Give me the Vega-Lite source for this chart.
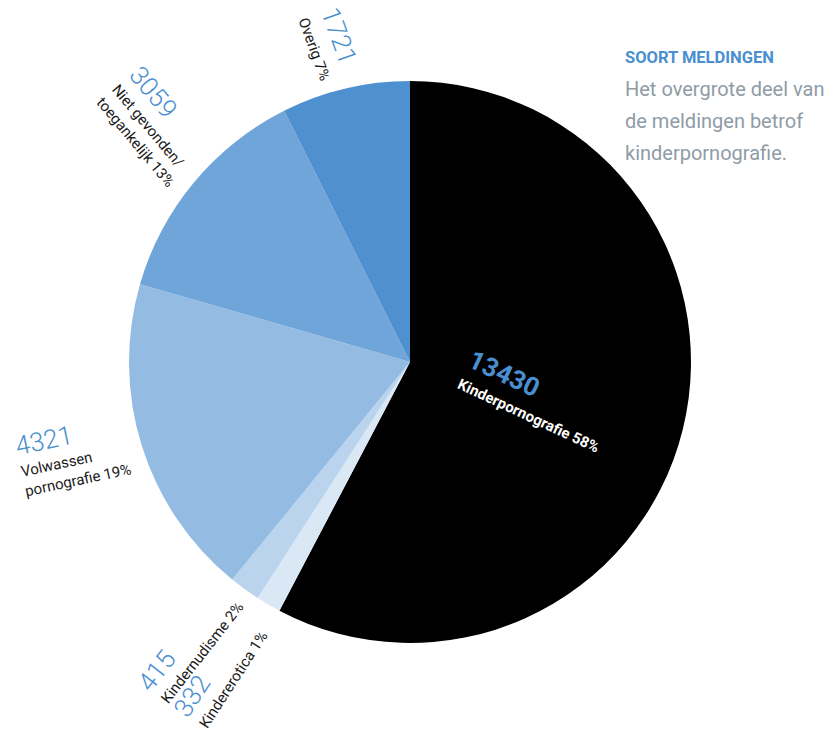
{
  "$schema": "https://vega.github.io/schema/vega-lite/v6.json",
  "width": 820,
  "height": 724,
  "autosize": "none",
  "padding": {"left": 0, "top": 0, "right": 12, "bottom": 6},
  "background": "white",
  "config": {"view": {"stroke": null}, "font": "Roboto"},
  "title": {
    "text": "SOORT MELDINGEN",
    "subtitle": ["Het overgrote deel van", "de meldingen betrof", "kinderpornografie."],
    "anchor": "start",
    "frame": "group",
    "orient": "top",
    "offset": 0,
    "dx": 625,
    "dy": 244,
    "font": "Roboto",
    "fontSize": 16.5,
    "fontWeight": "bold",
    "color": "#4a8fcf",
    "subtitleFont": "Roboto",
    "subtitleFontSize": 20,
    "subtitleColor": "#8f9ba6",
    "subtitleLineHeight": 32,
    "subtitlePadding": 13
  },
  "data": {
    "values": [
      {"cat": "Kinderpornografie", "n": 13430, "label": "Kinderpornografie 58%"},
      {"cat": "Kindererotica", "n": 332, "label": "Kindererotica 1%"},
      {"cat": "Kindernudisme", "n": 415, "label": "Kindernudisme 2%"},
      {"cat": "Volwassen pornografie", "n": 4321, "label": "Volwassen\npornografie 19%"},
      {"cat": "Niet gevonden/toegankelijk", "n": 3059, "label": "Niet gevonden/\ntoegankelijk 13%"},
      {"cat": "Overig", "n": 1721, "label": "Overig 7%"}
    ]
  },
  "transform": [{"window": [{"op": "row_number", "as": "idx"}]}],
  "encoding": {
    "theta": {"field": "n", "type": "quantitative", "stack": true},
    "order": {"field": "idx", "type": "quantitative"},
    "detail": {"field": "cat", "type": "nominal"}
  },
  "layer": [
    {
      "mark": {"type": "arc", "outerRadius": 281},
      "encoding": {
        "color": {
          "field": "cat",
          "type": "nominal",
          "scale": {
            "domain": ["Kinderpornografie", "Kindererotica", "Kindernudisme", "Volwassen pornografie", "Niet gevonden/toegankelijk", "Overig"],
            "range": ["#000000", "#dae8f5", "#bad4ee", "#94bce3", "#6fa5d9", "#4f91d0"]
          },
          "legend": null
        }
      }
    },
    {
      "mark": {"type": "text", "radius": 360, "angle": 70, "align": "left", "baseline": "alphabetic", "dx": -2, "dy": 30, "fontSize": 15, "color": "#1a1a1a", "lineBreak": "\n", "lineHeight": 20},
      "encoding": {"text": {"condition": {"test": "datum.cat === 'Overig'", "field": "label", "type": "nominal"}, "value": ""}}
    },
    {
      "mark": {"type": "text", "radius": 360, "angle": 70, "align": "left", "baseline": "alphabetic", "dx": -2, "dy": 6, "fontSize": 26, "fontWeight": 300, "color": "#4a8fd0"},
      "encoding": {"text": {"condition": {"test": "datum.cat === 'Overig'", "field": "n", "type": "quantitative", "format": "d"}, "value": ""}}
    },
    {
      "mark": {"type": "text", "radius": 404, "angle": 50, "align": "left", "baseline": "alphabetic", "dx": -3, "dy": -18, "fontSize": 15, "color": "#1a1a1a", "lineBreak": "\n", "lineHeight": 20},
      "encoding": {"text": {"condition": {"test": "datum.cat === 'Niet gevonden/toegankelijk'", "field": "label", "type": "nominal"}, "value": ""}}
    },
    {
      "mark": {"type": "text", "radius": 404, "angle": 50, "align": "left", "baseline": "alphabetic", "dx": -3, "dy": -40, "fontSize": 26, "fontWeight": 300, "color": "#4a8fd0"},
      "encoding": {"text": {"condition": {"test": "datum.cat === 'Niet gevonden/toegankelijk'", "field": "n", "type": "quantitative", "format": "d"}, "value": ""}}
    },
    {
      "mark": {"type": "text", "radius": 405, "angle": -12, "align": "left", "baseline": "alphabetic", "dx": 0, "dy": -6, "fontSize": 15, "color": "#1a1a1a", "lineBreak": "\n", "lineHeight": 20},
      "encoding": {"text": {"condition": {"test": "datum.cat === 'Volwassen pornografie'", "field": "label", "type": "nominal"}, "value": ""}}
    },
    {
      "mark": {"type": "text", "radius": 405, "angle": -12, "align": "left", "baseline": "alphabetic", "dx": 0, "dy": -28, "fontSize": 26, "fontWeight": 300, "color": "#4a8fd0"},
      "encoding": {"text": {"condition": {"test": "datum.cat === 'Volwassen pornografie'", "field": "n", "type": "quantitative", "format": "d"}, "value": ""}}
    },
    {
      "mark": {"type": "text", "radius": 419, "angle": -52, "align": "left", "baseline": "alphabetic", "dx": 0, "dy": 6, "fontSize": 15, "color": "#1a1a1a"},
      "encoding": {"text": {"condition": {"test": "datum.cat === 'Kindernudisme'", "field": "label", "type": "nominal"}, "value": ""}}
    },
    {
      "mark": {"type": "text", "radius": 419, "angle": -52, "align": "left", "baseline": "alphabetic", "dx": -2, "dy": -15, "fontSize": 26, "fontWeight": 300, "color": "#4a8fd0"},
      "encoding": {"text": {"condition": {"test": "datum.cat === 'Kindernudisme'", "field": "n", "type": "quantitative", "format": "d"}, "value": ""}}
    },
    {
      "mark": {"type": "text", "radius": 419, "angle": -57, "align": "left", "baseline": "alphabetic", "dx": 0, "dy": 10, "fontSize": 15, "color": "#1a1a1a"},
      "encoding": {"text": {"condition": {"test": "datum.cat === 'Kindererotica'", "field": "label", "type": "nominal"}, "value": ""}}
    },
    {
      "mark": {"type": "text", "radius": 419, "angle": -57, "align": "left", "baseline": "alphabetic", "dx": -2, "dy": -12, "fontSize": 26, "fontWeight": 300, "color": "#4a8fd0"},
      "encoding": {"text": {"condition": {"test": "datum.cat === 'Kindererotica'", "field": "n", "type": "quantitative", "format": "d"}, "value": ""}}
    },
    {
      "mark": {"type": "text", "radius": 53, "angle": 25, "align": "left", "baseline": "alphabetic", "dx": 1, "dy": 14, "fontSize": 15, "fontWeight": "bold", "color": "#ffffff"},
      "encoding": {"text": {"condition": {"test": "datum.cat === 'Kinderpornografie'", "field": "label", "type": "nominal"}, "value": ""}}
    },
    {
      "mark": {"type": "text", "radius": 53, "angle": 25, "align": "left", "baseline": "alphabetic", "dx": 1, "dy": -10, "fontSize": 26, "fontWeight": "bold", "color": "#4a8fd0"},
      "encoding": {"text": {"condition": {"test": "datum.cat === 'Kinderpornografie'", "field": "n", "type": "quantitative", "format": "d"}, "value": ""}}
    }
  ]
}
